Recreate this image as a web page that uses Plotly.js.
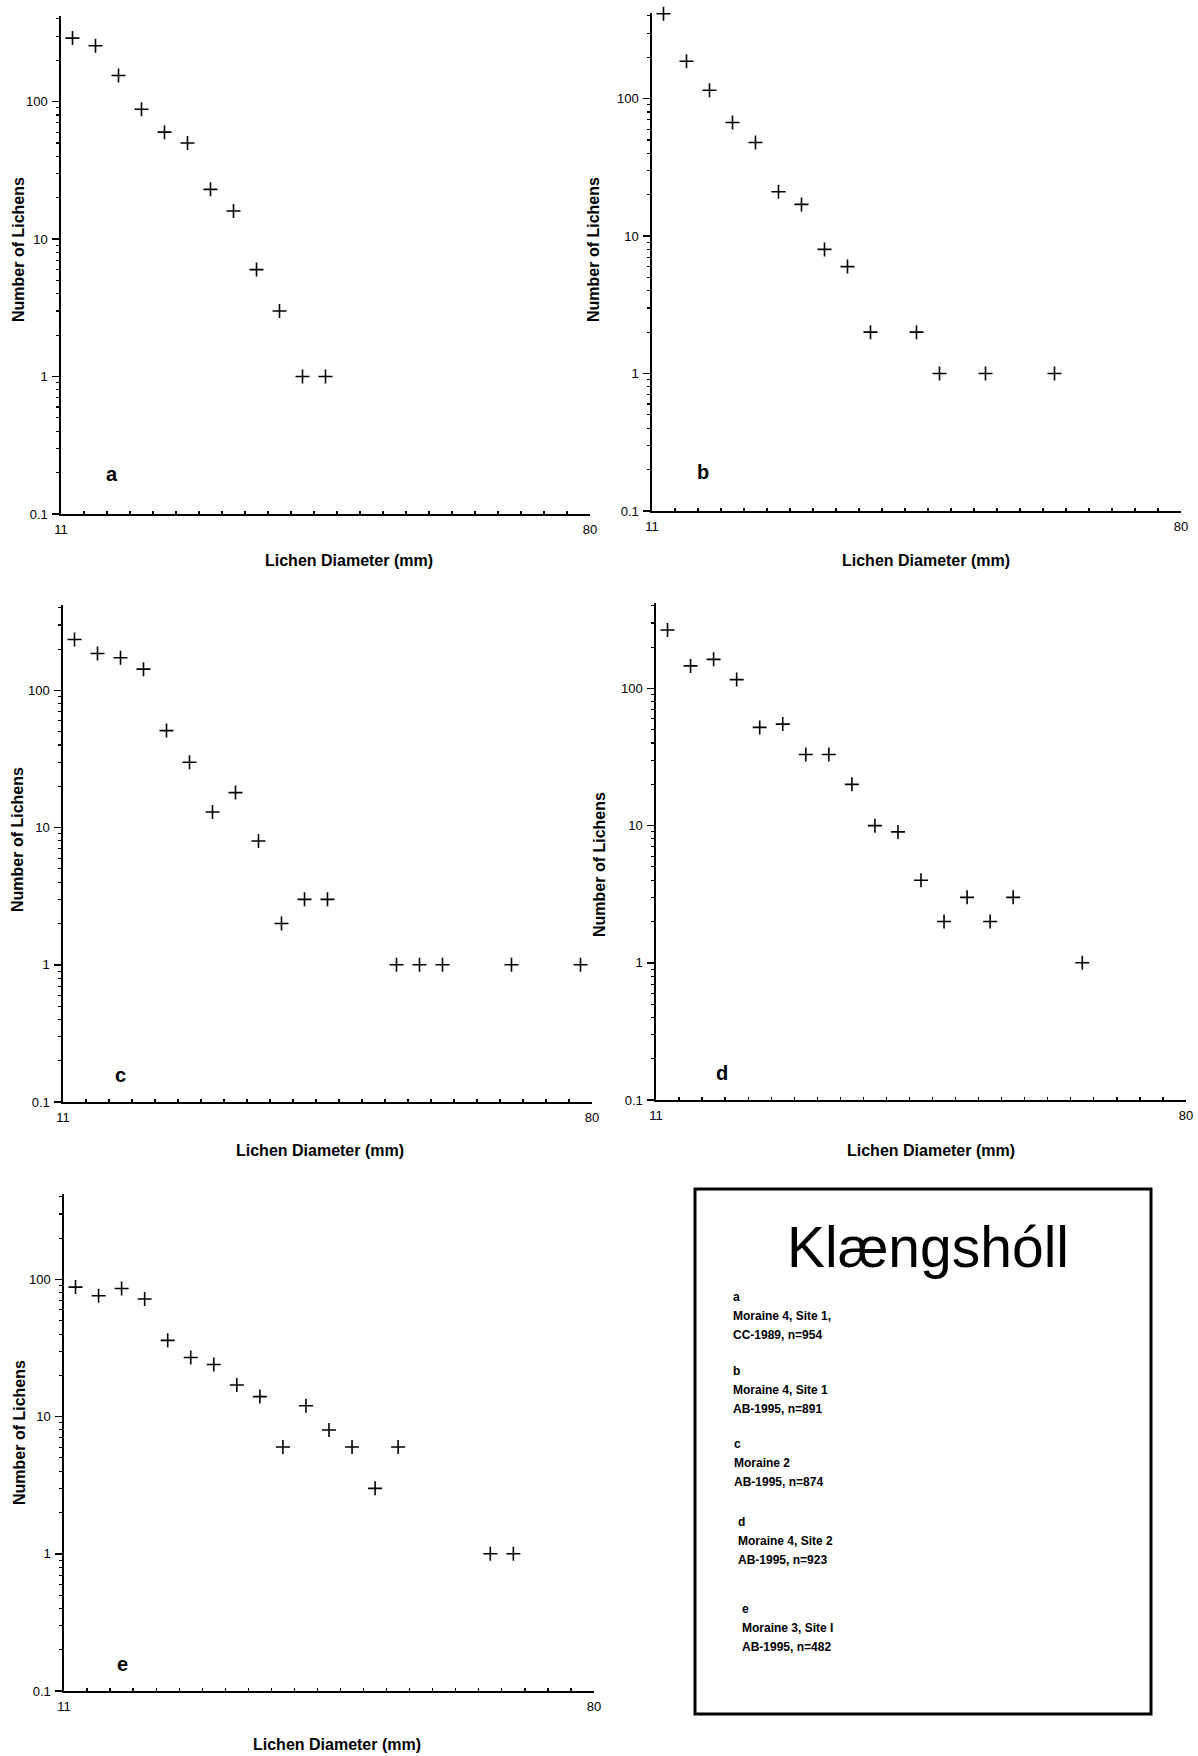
<!DOCTYPE html>
<html>
<head>
<meta charset="utf-8">
<script src="https://cdn.plot.ly/plotly-3.0.1.min.js"></script>
<style>html,body{margin:0;padding:0;background:#fff;}#chart{width:1198px;height:1756px;}</style>
</head>
<body>
<div id="chart"></div>
<script>
// ---- Data (lichen diameter bin mid-points in mm, number of lichens) ----
const panelLetters = ["a", "b", "c", "d", "e"];

const diamA = [12.5, 15.5, 18.5, 21.5, 24.5, 27.5, 30.5, 33.5, 36.5, 39.5, 42.5, 45.5];
const countA = [290, 255, 155, 88, 60, 50, 23, 16, 6, 3, 1, 1];

const diamB = [12.5, 15.5, 18.5, 21.5, 24.5, 27.5, 30.5, 33.5, 36.5, 39.5, 45.5, 48.5, 54.5, 63.5];
const countB = [415, 187, 115, 67, 48, 21, 17, 8, 6, 2, 2, 1, 1, 1];

const diamC = [12.5, 15.5, 18.5, 21.5, 24.5, 27.5, 30.5, 33.5, 36.5, 39.5, 42.5, 45.5, 54.5, 57.5, 60.5, 69.5, 78.5];
const countC = [235, 186, 173, 143, 51, 30, 13, 18, 8, 2, 3, 3, 1, 1, 1, 1, 1];

const diamD = [12.5, 15.5, 18.5, 21.5, 24.5, 27.5, 30.5, 33.5, 36.5, 39.5, 42.5, 45.5, 48.5, 51.5, 54.5, 57.5, 66.5];
const countD = [267, 146, 163, 116, 52, 55, 33, 33, 20, 10, 9, 4, 2, 3, 2, 3, 1];

const diamE = [12.5, 15.5, 18.5, 21.5, 24.5, 27.5, 30.5, 33.5, 36.5, 39.5, 42.5, 45.5, 48.5, 51.5, 54.5, 66.5, 69.5];
const countE = [88, 76, 86, 72, 36, 27, 24, 17, 14, 6, 12, 8, 6, 3, 6, 1, 1];

const yTickVals = [0.1, 1, 10, 100];
const yTickText = ["0.1", "1", "10", "100"];
const xTickVals = [11, 80];
const xTickText = ["11", "80"];

const xTitle = "Lichen Diameter (mm)";
const yTitle = "Number of Lichens";
const boxTitle = "Klængshóll";
const boxLines = [
  ["a", "Moraine 4, Site 1,", "CC-1989, n=954"],
  ["b", "Moraine 4, Site 1", "AB-1995, n=891"],
  ["c", "Moraine 2", "AB-1995, n=874"],
  ["d", "Moraine 4, Site 2", "AB-1995, n=923"],
  ["e", "Moraine 3, Site I", "AB-1995, n=482"]
];

// ---- Layout helpers ----
const W = 1198, H = 1756;
const px = v => v / W;
const py = v => 1 - v / H;
const FONT = "Liberation Sans, Arial, sans-serif";

const series = [
  {x: diamA, y: countA},
  {x: diamB, y: countB},
  {x: diamC, y: countC},
  {x: diamD, y: countD},
  {x: diamE, y: countE}
];

// plot frames: [left, right, top, bottom] in px
const frames = [
  [61, 590, 16, 514],
  [652, 1181, 13, 511],
  [63, 592, 605, 1102],
  [656, 1186, 603, 1100],
  [64, 594, 1194, 1691]
];
const letterPos = [[112, 474], [703, 472], [120, 1075], [722, 1073], [122, 1664]];
const xTitlePos = [[349, 560], [926, 560], [320, 1150], [931, 1150], [337, 1744]];
const yTitlePos = [[18, 250], [593, 250], [18, 840], [600, 865], [19, 1433]];

const minorY = [];
[0.1, 1, 10, 100].forEach(d => { for (let k = 2; k <= 9; k++) { if (d * k <= 400) minorY.push(d * k); } });

const data = [];
const layout = {
  width: W, height: H,
  margin: {l: 0, r: 0, t: 0, b: 0},
  paper_bgcolor: "#fff", plot_bgcolor: "rgba(0,0,0,0)",
  showlegend: false,
  font: {family: FONT, color: "#000", size: 12},
  annotations: [],
  shapes: []
};

series.forEach((s, i) => {
  const n = i === 0 ? "" : String(i + 1);
  data.push({
    type: "scatter", mode: "markers",
    x: s.x, y: s.y,
    xaxis: "x" + n, yaxis: "y" + n,
    cliponaxis: false,
    marker: {symbol: "cross-thin", size: 10, color: "#000", line: {color: "#000", width: 1.6}},
    hoverinfo: "x+y"
  });
  const f = frames[i];
  layout["xaxis" + n] = {
    domain: [px(f[0]), px(f[1])],
    anchor: "y" + n,
    range: [11, 80],
    showline: true, linecolor: "#000", linewidth: 1.6,
    showgrid: false, zeroline: false,
    ticks: "inside", ticklen: 8, tickwidth: 1.4, tickcolor: "#000",
    tickmode: "array", tickvals: xTickVals, ticktext: xTickText,
    tickfont: {family: FONT, size: 13, color: "#000"},
    ticklabelstandoff: 3,
    minor: {tickmode: "linear", tick0: 11, dtick: 3, ticks: "inside", ticklen: 3, tickwidth: 1.3, tickcolor: "#000", showgrid: false}
  };
  layout["yaxis" + n] = {
    domain: [py(f[3]), py(f[2])],
    anchor: "x" + n,
    type: "log",
    range: [-1, 2.623],
    showline: true, linecolor: "#000", linewidth: 1.6,
    showgrid: false, zeroline: false,
    ticks: "outside", ticklen: 7, tickwidth: 1.4, tickcolor: "#000",
    tickmode: "array", tickvals: yTickVals, ticktext: yTickText,
    tickfont: {family: FONT, size: 13, color: "#000"},
    ticklabelstandoff: 2,
    minor: {tickmode: "array", tickvals: minorY, ticks: "outside", ticklen: 3, tickwidth: 1.1, tickcolor: "#000", showgrid: false}
  };
  layout.annotations.push({
    xref: "paper", yref: "paper", x: px(letterPos[i][0]), y: py(letterPos[i][1]),
    xanchor: "center", yanchor: "middle", showarrow: false,
    text: "<b>" + panelLetters[i] + "</b>", font: {family: FONT, size: 20, color: "#000"}
  });
  layout.annotations.push({
    xref: "paper", yref: "paper", x: px(xTitlePos[i][0]), y: py(xTitlePos[i][1]),
    xanchor: "center", yanchor: "middle", showarrow: false,
    text: "<b>" + xTitle + "</b>", font: {family: FONT, size: 16, color: "#000"}
  });
  layout.annotations.push({
    xref: "paper", yref: "paper", x: px(yTitlePos[i][0]), y: py(yTitlePos[i][1]),
    xanchor: "center", yanchor: "middle", showarrow: false, textangle: -90,
    text: "<b>" + yTitle + "</b>", font: {family: FONT, size: 16, color: "#000"}
  });
});

// ---- Legend box ----
layout.shapes.push({
  type: "rect", xref: "paper", yref: "paper",
  x0: px(695), x1: px(1151), y0: py(1714), y1: py(1189),
  line: {color: "#000", width: 3}, fillcolor: "rgba(0,0,0,0)"
});
layout.annotations.push({
  xref: "paper", yref: "paper", x: px(928), y: py(1247),
  xanchor: "center", yanchor: "middle", showarrow: false,
  text: boxTitle, font: {family: FONT, size: 57, color: "#000"}
});
const blockTop = [1297, 1371, 1444, 1522, 1609];
const blockX = [731, 731, 732, 736, 740];
boxLines.forEach((lines, b) => {
  lines.forEach((t, j) => {
    layout.annotations.push({
      xref: "paper", yref: "paper", x: px(blockX[b]), y: py(blockTop[b] + j * 19),
      xanchor: "left", yanchor: "middle", showarrow: false,
      text: "<b>" + t + "</b>", font: {family: FONT, size: 12, color: "#000"}
    });
  });
});

Plotly.newPlot("chart", data, layout, {staticPlot: true, displayModeBar: false});
</script>
</body>
</html>
